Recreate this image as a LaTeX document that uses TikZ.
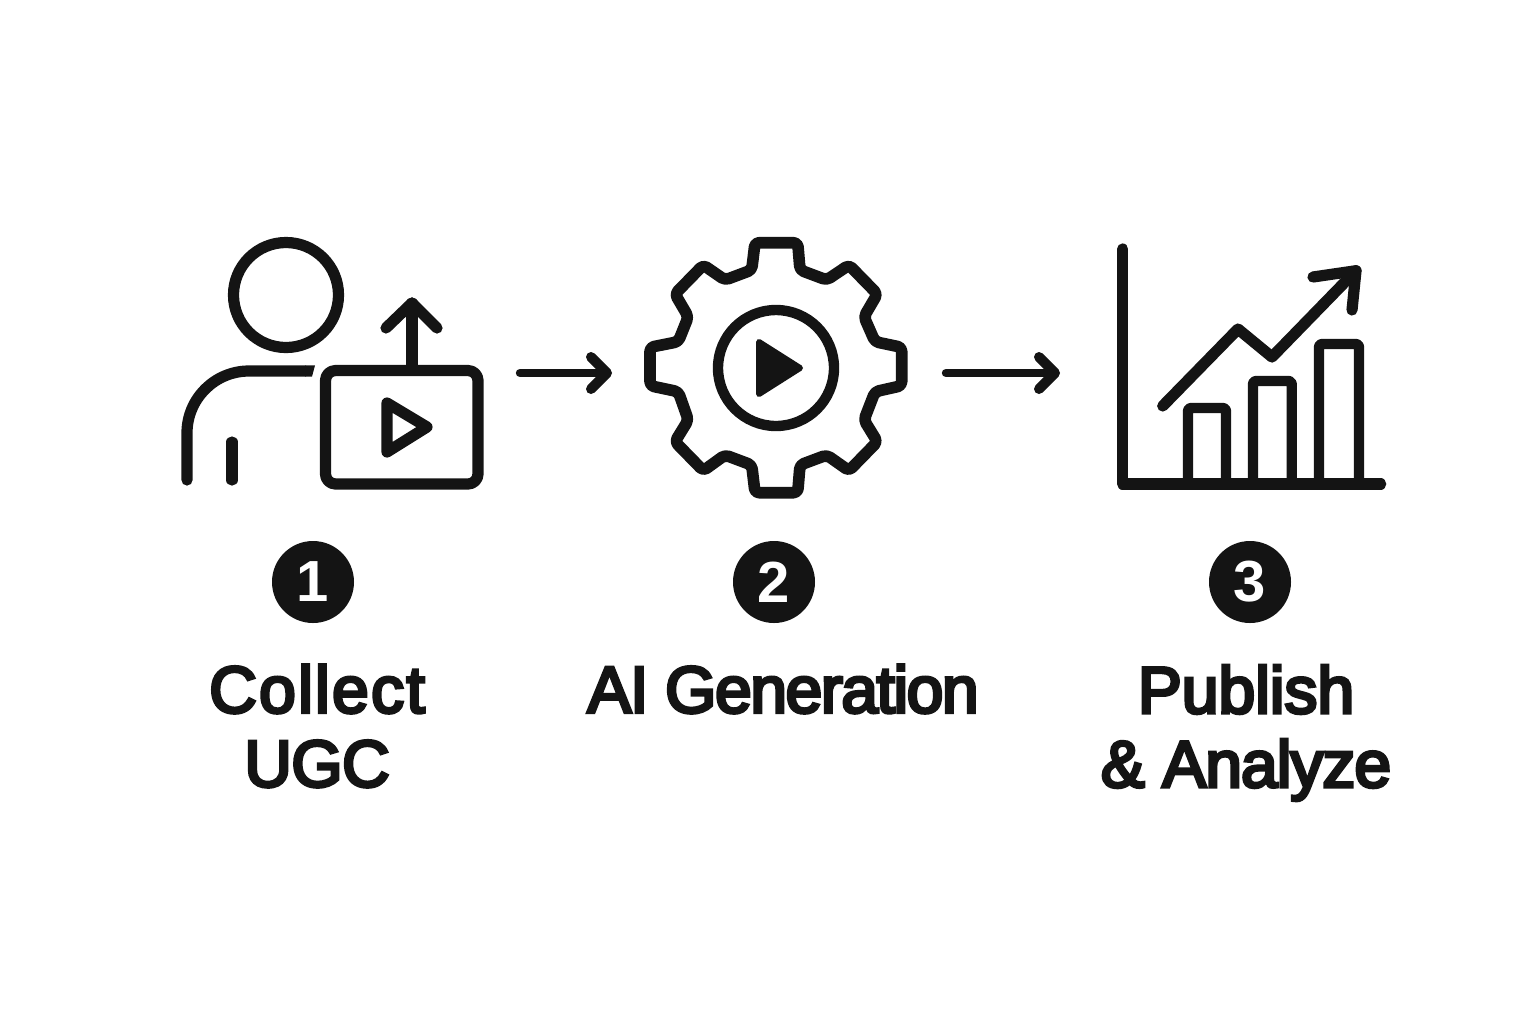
\documentclass[tikz,border=0pt]{standalone}
\usepackage{fontspec}
\setmainfont{Liberation Sans}
\newfontfamily\lblfont[FakeBold=4.8]{Liberation Sans}
\usetikzlibrary{arrows.meta}
\definecolor{inkc}{HTML}{141414}
\tikzset{
    icon/.style = {draw=inkc, line width=5.6pt, line cap=round, line join=round},
    iconthin/.style = {icon, line width=5.2pt},
    conn/.style = {draw=inkc, line width=4.2pt, line cap=round, line join=round,
        -{Straight Barb[round, length=8pt, width=16pt, line width=5pt]}},
    badge/.style = {circle, fill=inkc, text=white, minimum size=41pt, inner sep=0pt, font=\fontsize{29}{29}\selectfont\bfseries},
    steplabel/.style = {text=inkc, align=center, inner sep=0pt, font=\fontsize{33}{37}\selectfont\lblfont},
}
\newcommand{\spaced}[2]{{\addfontfeature{LetterSpace=#1}#2}}
\begin{document}
\begin{tikzpicture}[x=.5pt, y=-.5pt]
    \useasboundingbox (0,0) rectangle (1536,1024);
    \fill[white] (0,0) rectangle (1536,1024);
    % person
    \draw[icon] (286,295) circle (52.5);
    \draw[icon] (187,480)--(187,433) arc (180:270:62)--(305,371);
    \fill[inkc] (305,365.4)--(315,365.4)--(312,376.6)--(305,376.6)--cycle;
    \draw[icon] (232,442)--(232,480);
    % screen with upload arrow
    \draw[icon, rounded corners=5pt] (325.5,370.5) rectangle (478,484);
    \draw[icon] (412,370)--(412,303);
    \draw[icon] (386,328)--(412,303)--(437,328);
    \draw[icon] (387,403)--(427,427)--(387,452)--cycle;
    % gear
    \draw[icon, line width=5.8pt, rounded corners=2pt] (755,242.7)--(797.7,242.7)--(800,270)--(826.7,280)--(849,265)--(877.3,294)--(864,316.7)--(875,341.7)--(901.7,347.3)--(901.7,385.7)--(875,391.7)--(864,420)--(877.3,441.7)--(849,470.7)--(826.7,455)--(800,465)--(797.7,492.7)--(755,492.7)--(751.7,465)--(725,455)--(703.3,470.7)--(675,441.7)--(688.3,420)--(678.3,391.7)--(650,385.7)--(650,347.3)--(678.3,341.7)--(688.3,316.7)--(675,294)--(703.3,265)--(725,280)--(751.7,270)--cycle;
    \draw[icon, line width=5.2pt] (776,368) circle (58);
    \fill[inkc, draw=inkc, line width=3pt, line join=round] (759,342)--(800,368)--(759,394)--cycle;
    % chart
    \draw[icon] (1122.7,249)--(1122.7,484)--(1380.7,484);
    \foreach \xa/\xb/\ytop in {1188/1226/408, 1253/1291.7/381, 1319/1359/344}{
        \draw[iconthin, rounded corners=1.5pt] (\xa,484)--(\xa,\ytop)--(\xb,\ytop)--(\xb,484);
    }
    \draw[icon] (1162.7,406)--(1238,329)--(1272,357)--(1356,270.7);
    \draw[icon] (1313,277)--(1356,270.7)--(1352,310);
    % connectors
    \coordinate (arrowAs) at (520,373);
    \coordinate (arrowAe) at (612,373);
    \coordinate (arrowBs) at (946,373);
    \coordinate (arrowBe) at (1060,373);
    \draw[conn] (arrowAs)--(arrowAe);
    \draw[conn] (arrowBs)--(arrowBe);
    % badges and labels
    \node[badge] (badgeA) at (313,582) {1};
    \node[badge] (badgeB) at (774,582) {2};
    \node[badge] (badgeC) at (1250,582) {3};
    \node[steplabel] (labelA) at (317,726) {\spaced{3.5}{Collect}\\\spaced{-1}{UGC}};
    \node[steplabel] (labelB) at (783,689) {\spaced{-2.2}{AI Generation}};
    \node[steplabel] (labelC) at (1246,733) {Publish\\\spaced{-1.5}{\&~Analyze}};
\end{tikzpicture}
\end{document}
